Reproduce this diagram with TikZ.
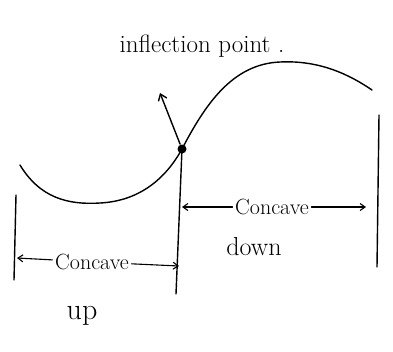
\documentclass[tikz,border=0pt]{standalone}
\usepackage{fontspec}
\usepackage{tikz}
\usetikzlibrary{arrows.meta,calc,positioning}

\begin{document}
\begin{tikzpicture}[x=1pt, y=-1pt, line width=1.4pt, line cap=round,
  lbl/.style={font=\fontsize{22}{24}\selectfont, inner sep=2pt},
  dimarrow/.style={-{Straight Barb[length=5pt,width=7pt]}, line width=1.1pt}]
\useasboundingbox (0,0) rectangle (393,351);
% Curva
\coordinate (c0) at (20,165);
\coordinate (cmin) at (100,203);
\node[circle, fill, inner sep=0pt, minimum size=9pt] (ip) at (182,149) {};
\coordinate (cmax) at (280,62);
\coordinate (c1) at (372,90);
\draw (c0) .. controls (40,198) and (68,205) .. (cmin)
      .. controls (140,201) and (166,178) .. (ip.center)
      .. controls (205,105) and (232,64) .. (cmax)
      .. controls (320,60) and (350,75) .. (c1);
% Punto di flesso
\node[font=\fontsize{25}{27}\selectfont] (iplbl) at (202,46) {inflection point .};
\coordinate (iptip) at (160,93);
\draw[-{Straight Barb[length=6pt,width=9pt]}] (ip) -- (iptip);
% Linee verticali
\coordinate (lt) at (16,195); \coordinate (lb) at (14,280);
\coordinate (mb) at (176,294);
\coordinate (rt) at (379,115); \coordinate (rb) at (377,267);
\draw (lt) -- (lb);
\draw (ip.center) -- (mb);
\draw (rt) -- (rb);
% Intervalli
\node[lbl] (cdn) at (272,207) {Concave};
\node[lbl, font=\fontsize{26}{28}\selectfont] (down) at (254,247) {down};
\node[lbl] (cup) at (92,262) {Concave};
\node[lbl, font=\fontsize{30}{32}\selectfont] (up) at (82,316) {up};
\coordinate (dl) at (182,207); \coordinate (dr) at (366,207);
\coordinate (ul) at (17,258);  \coordinate (ur) at (179,266);
\draw[dimarrow] (cdn) -- (dl);
\draw[dimarrow] (cdn) -- (dr);
\draw[dimarrow] (cup) -- (ul);
\draw[dimarrow] (cup) -- (ur);
\end{tikzpicture}
\end{document}
